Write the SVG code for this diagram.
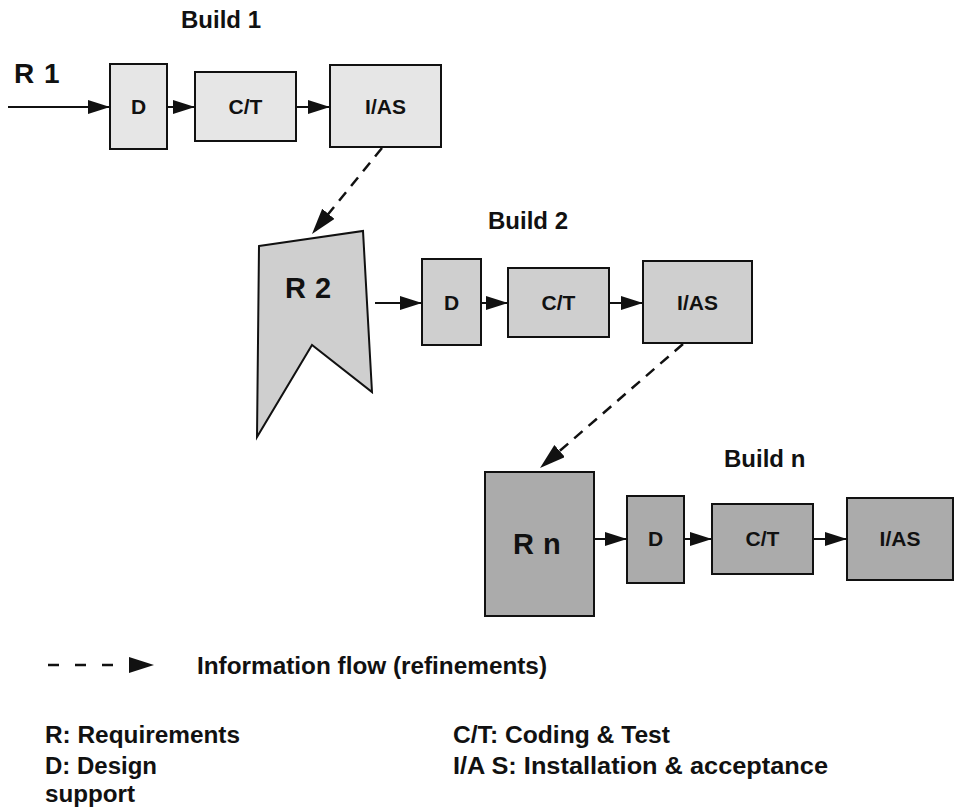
<svg xmlns="http://www.w3.org/2000/svg" width="955" height="808" viewBox="0 0 955 808">
  <style>
    text { font-family: "Liberation Sans", Arial, sans-serif; font-weight: bold; fill: #111; }
    .box { stroke: #111; stroke-width: 2; }
    .b1 { fill: #e6e6e6; }
    .b2 { fill: #cfcfcf; }
    .b3 { fill: #ababab; }
    .lbl { font-size: 21px; text-anchor: middle; }
    .req { font-size: 29px; }
    .title { font-size: 24px; }
    .legend { font-size: 23px; }
    .flow { stroke: #111; stroke-width: 2; fill: none; marker-end: url(#head); }
    .refine { stroke: #111; stroke-width: 2.5; fill: none; stroke-dasharray: 11 8; marker-end: url(#headBig); }
  </style>
  <defs>
    <marker id="head" markerUnits="userSpaceOnUse" markerWidth="24" markerHeight="16" refX="22" refY="7" orient="auto">
      <path d="M0,0 L22,7 L0,14 Z" fill="#111"/>
    </marker>
    <marker id="headBig" markerUnits="userSpaceOnUse" markerWidth="28" markerHeight="18" refX="26" refY="8" orient="auto">
      <path d="M0,0 L26,8 L0,16 Z" fill="#111"/>
    </marker>
  </defs>

  <rect width="955" height="808" fill="#fff"/>

  <!-- build titles -->
  <text class="title" x="181" y="28">Build 1</text>
  <text class="title" x="488" y="229">Build 2</text>
  <text class="title" x="724" y="467">Build n</text>

  <!-- build 1 -->
  <g id="r1">
    <text class="req" x="14" y="83" style="font-size:28px" word-spacing="2">R 1</text>
  </g>
  <g id="d1">
    <rect class="box b1" x="110" y="64" width="57" height="85"/>
    <text class="lbl" x="138.5" y="114">D</text>
  </g>
  <g id="ct1">
    <rect class="box b1" x="195" y="72" width="101" height="69"/>
    <text class="lbl" x="245.5" y="114">C/T</text>
  </g>
  <g id="ias1">
    <rect class="box b1" x="330" y="65" width="111" height="82"/>
    <text class="lbl" x="385.5" y="114">I/AS</text>
  </g>

  <!-- build 2 -->
  <g id="r2">
    <polygon class="box b2" points="259,246 363,231 372,392 312,345 257,437"/>
    <text class="req" x="285" y="298" word-spacing="1">R 2</text>
  </g>
  <g id="d2">
    <rect class="box b2" x="422" y="259" width="59" height="86"/>
    <text class="lbl" x="451.5" y="310">D</text>
  </g>
  <g id="ct2">
    <rect class="box b2" x="508" y="268" width="101" height="69"/>
    <text class="lbl" x="558.5" y="310">C/T</text>
  </g>
  <g id="ias2">
    <rect class="box b2" x="643" y="261" width="109" height="82"/>
    <text class="lbl" x="697.5" y="310">I/AS</text>
  </g>

  <!-- build n -->
  <g id="rn">
    <rect class="box b3" x="485" y="472" width="109" height="144"/>
    <text class="req" x="513" y="554" word-spacing="1">R n</text>
  </g>
  <g id="d3">
    <rect class="box b3" x="627" y="496" width="57" height="87"/>
    <text class="lbl" x="655.5" y="546">D</text>
  </g>
  <g id="ct3">
    <rect class="box b3" x="712" y="504" width="101" height="70"/>
    <text class="lbl" x="762.5" y="546">C/T</text>
  </g>
  <g id="ias3">
    <rect class="box b3" x="847" y="498" width="106" height="82"/>
    <text class="lbl" x="900" y="546">I/AS</text>
  </g>

  <!-- connectors -->
  <g id="connectors">
    <line class="flow" x1="8" y1="107" x2="110" y2="107"/>
    <line class="flow" x1="167" y1="107" x2="195" y2="107"/>
    <line class="flow" x1="296" y1="107" x2="330" y2="107"/>

    <line class="flow" x1="375" y1="303" x2="422" y2="303"/>
    <line class="flow" x1="481" y1="303" x2="508" y2="303"/>
    <line class="flow" x1="609" y1="303" x2="643" y2="303"/>

    <line class="flow" x1="594" y1="539" x2="627" y2="539"/>
    <line class="flow" x1="684" y1="539" x2="712" y2="539"/>
    <line class="flow" x1="813" y1="539" x2="847" y2="539"/>

    <line class="refine" x1="382" y1="148" x2="312" y2="234"/>
    <line class="refine" x1="683" y1="344" x2="540" y2="468"/>
  </g>

  <!-- legend -->
  <g id="legend">
    <line x1="48" y1="665" x2="128" y2="665" stroke="#111" stroke-width="2.5" stroke-dasharray="11 16"/>
    <path d="M129,657 L154,665 L129,673 Z" fill="#111"/>
    <text class="legend" x="197" y="674" textLength="350" lengthAdjust="spacingAndGlyphs">Information flow (refinements)</text>
    <text class="legend" x="45" y="743" textLength="195" lengthAdjust="spacingAndGlyphs">R: Requirements</text>
    <text class="legend" x="45" y="774" textLength="112" lengthAdjust="spacingAndGlyphs">D: Design</text>
    <text class="legend" x="45" y="802" textLength="90" lengthAdjust="spacingAndGlyphs">support</text>
    <text class="legend" x="453" y="743" textLength="217" lengthAdjust="spacingAndGlyphs">C/T: Coding &amp; Test</text>
    <text class="legend" x="453" y="774" textLength="375" lengthAdjust="spacingAndGlyphs">I/A S: Installation &amp; acceptance</text>
  </g>
</svg>
